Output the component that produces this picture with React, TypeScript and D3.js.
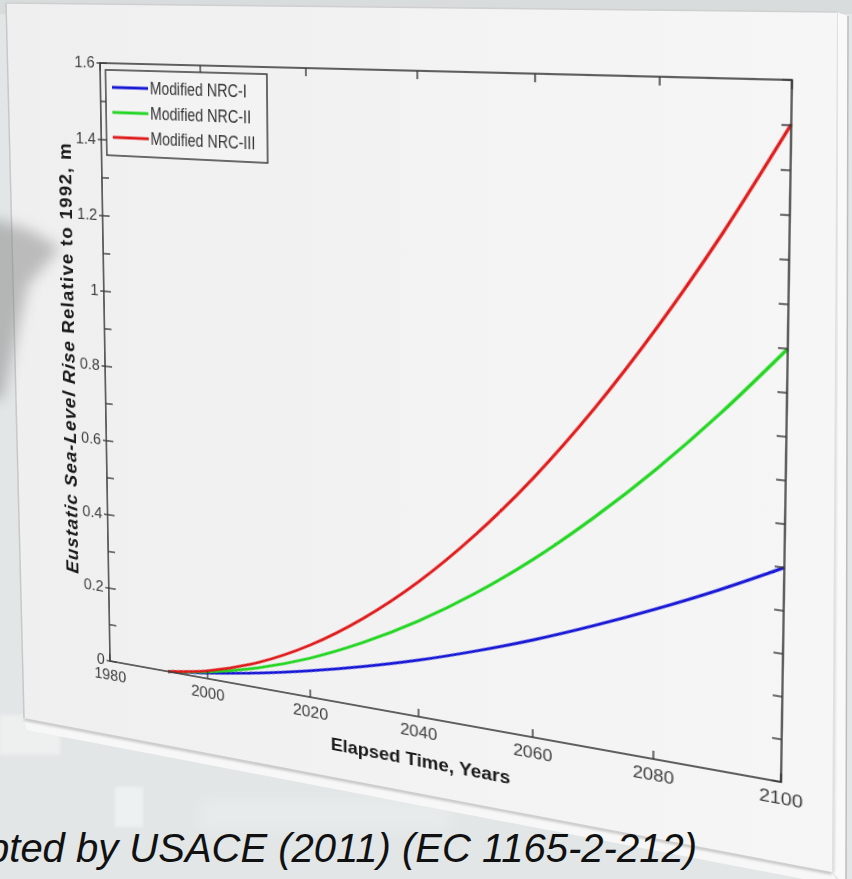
import React from "react";
import * as d3 from "d3";

// values (m, relative to 1992)
const years = [1992, 2000, 2010, 2020, 2030, 2040, 2050, 2060, 2070, 2080, 2090, 2100];
const nrcI = [0, 0.015, 0.039, 0.069, 0.104, 0.144, 0.19, 0.241, 0.298, 0.36, 0.427, 0.5];
const nrcII = [0, 0.018, 0.053, 0.102, 0.166, 0.243, 0.334, 0.439, 0.559, 0.692, 0.839, 1.0];
const nrcIII = [0, 0.021, 0.067, 0.136, 0.228, 0.342, 0.479, 0.638, 0.82, 1.025, 1.252, 1.502];

const seriesNames = ["Modified NRC-I", "Modified NRC-II", "Modified NRC-III"];
const seriesColors = ["#1616d6", "#22d622", "#e01a1a"];

const xTicks = [1980, 2000, 2020, 2040, 2060, 2080, 2100];
const yTicks = [0, 0.1, 0.2, 0.3, 0.4, 0.5, 0.6, 0.7, 0.8, 0.9, 1, 1.1, 1.2, 1.3, 1.4, 1.5, 1.6];
const yLabels = [0, 0.2, 0.4, 0.6, 0.8, 1, 1.2, 1.4, 1.6];

const W = 852;
const H = 879;

// flat plot box, before the perspective
const PL = 100;
const PT = 63;
const PW = 660;
const PH = 640;

// where the plot corners land in the photo
const quad = [
  [100, 63],
  [792, 80],
  [781, 782],
  [110, 661],
];

// 2d projective transform from 4 point pairs
function homography(src: number[][], dst: number[][]) {
  const A: number[][] = [];
  for (let i = 0; i < 4; i++) {
    const [x, y] = src[i];
    const [X, Y] = dst[i];
    A.push([x, y, 1, 0, 0, 0, -x * X, -y * X, X]);
    A.push([0, 0, 0, x, y, 1, -x * Y, -y * Y, Y]);
  }
  const n = 8;
  for (let c = 0; c < n; c++) {
    let p = c;
    for (let r = c + 1; r < n; r++) if (Math.abs(A[r][c]) > Math.abs(A[p][c])) p = r;
    [A[c], A[p]] = [A[p], A[c]];
    for (let r = 0; r < n; r++) {
      if (r === c) continue;
      const f = A[r][c] / A[c][c];
      for (let k = c; k <= n; k++) A[r][k] -= f * A[c][k];
    }
  }
  return A.map((row, i) => row[n] / row[i]);
}

const fmt = (v: number) => String(Math.round(v * 10) / 10);

export default function App() {
  const x = d3.scaleLinear().domain([1980, 2100]).range([PL, PL + PW]);
  const y = d3.scaleLinear().domain([0, 1.6]).range([PT + PH, PT]);

  const line = d3
    .line<number>()
    .x((d, i) => x(years[i]))
    .y((d) => y(d))
    .curve(d3.curveMonotoneX);

  const h = homography(
    [
      [PL, PT],
      [PL + PW, PT],
      [PL + PW, PT + PH],
      [PL, PT + PH],
    ],
    quad
  );
  const m = `matrix3d(${h[0]},${h[3]},0,${h[6]},${h[1]},${h[4]},0,${h[7]},0,0,1,0,${h[2]},${h[5]},0,1)`;

  const series = [nrcI, nrcII, nrcIII];
  const font = "'Liberation Sans', Arial, sans-serif";

  return (
    <div style={{ position: "absolute", left: 0, top: 0, width: W, height: H, overflow: "hidden" }}>
      <svg width={W} height={H} style={{ position: "absolute", left: 0, top: 0 }}>
        <defs>
          <filter id="blur8" x="-50%" y="-50%" width="200%" height="200%">
            <feGaussianBlur stdDeviation="7" />
          </filter>
          <filter id="blur2" x="-10%" y="-10%" width="120%" height="120%">
            <feGaussianBlur stdDeviation="1.5" />
          </filter>
          <linearGradient id="face" x1="0" y1="0" x2="1" y2="0">
            <stop offset="0" stopColor="#efefef" />
            <stop offset="1" stopColor="#f6f6f6" />
          </linearGradient>
        </defs>
        <rect width={W} height={H} fill="#e2e6e6" />
        <rect x={0} y={0} width={W} height={14} fill="#d9dcdc" />
        <rect x={0} y={715} width={60} height={40} fill="#eef0f0" filter="url(#blur2)" />
        <rect x={115} y={787} width={28} height={40} fill="#eef1f1" filter="url(#blur2)" />
        <rect x={200} y={800} width={250} height={30} fill="#e8ebeb" filter="url(#blur8)" />

        {/* board thickness */}
        <polygon points="24,718 832,872 840,886 27,730" fill="#f7f7f7" />
        <polygon points="836,12 848,16 846,886 832,872" fill="#f9f9f9" />
        <line x1={24} y1={719} x2={832} y2={873} stroke="#b0b0b0" strokeWidth={2.5} filter="url(#blur2)" />
        <line x1={837} y1={12} x2={833} y2={872} stroke="#c4c4c4" strokeWidth={2} filter="url(#blur2)" />
        <line x1={848} y1={16} x2={846} y2={886} stroke="#bdbdbd" strokeWidth={1.5} />

        {/* board face */}
        <polygon points="6,3 837,12 832,872 24,718" fill="url(#face)" />
        <line x1={6} y1={3} x2={837} y2={12} stroke="#cfcfcf" strokeWidth={1.5} />
        <line x1={6} y1={3} x2={24} y2={718} stroke="#c8c8c8" strokeWidth={1.5} />

        {/* grey reflection on the left */}
        <path d="M-20,215 L30,230 L60,248 L28,285 L2,400 L-20,400 Z" fill="#7d7d7d" opacity={0.45} filter="url(#blur8)" />

        <text
          x={697}
          y={862}
          textAnchor="end"
          fontFamily={font}
          fontStyle="italic"
          fontSize={40}
          fill="#111"
        >
          Adopted by USACE (2011) (EC 1165-2-212)
        </text>
      </svg>

      <svg
        width={W}
        height={H}
        style={{ position: "absolute", left: 0, top: 0, transform: m, transformOrigin: "0 0" }}
      >
        <g fontFamily={font}>
          {/* curves */}
          {series.map((s, i) => (
            <path
              key={seriesNames[i]}
              d={line(s) || ""}
              fill="none"
              stroke={seriesColors[i]}
              strokeWidth={2.8}
              strokeLinejoin="round"
            />
          ))}

          {/* axes box */}
          <rect x={PL} y={PT} width={PW} height={PH} fill="none" stroke="#3a3a3a" strokeWidth={1.6} />

          {xTicks.map((t) => (
            <g key={"x" + t}>
              <line x1={x(t)} x2={x(t)} y1={PT + PH} y2={PT + PH - 8} stroke="#3a3a3a" strokeWidth={1.4} />
              <line x1={x(t)} x2={x(t)} y1={PT} y2={PT + 8} stroke="#3a3a3a" strokeWidth={1.4} />
              <text x={x(t)} y={PT + PH + 21} textAnchor="middle" fontSize={16.5} fill="#404040">
                {t}
              </text>
            </g>
          ))}

          {yTicks.map((t) => (
            <g key={"y" + t}>
              <line x1={PL} x2={PL + 8} y1={y(t)} y2={y(t)} stroke="#3a3a3a" strokeWidth={1.4} />
              <line x1={PL + PW} x2={PL + PW - 8} y1={y(t)} y2={y(t)} stroke="#3a3a3a" strokeWidth={1.4} />
            </g>
          ))}
          {yLabels.map((t) => (
            <g key={"yl" + t}>
              <line x1={PL - 4} x2={PL} y1={y(t)} y2={y(t)} stroke="#3a3a3a" strokeWidth={1.4} />
              <text x={PL - 6} y={y(t) + 5} textAnchor="end" fontSize={16.5} fill="#404040">
                {fmt(t)}
              </text>
            </g>
          ))}

          {/* axis titles */}
          <text
            transform={`translate(65, ${PT + PH / 2 - 3}) rotate(-90)`}
            textAnchor="middle"
            fontSize={20}
            fontWeight="bold"
            letterSpacing={1.3}
            fill="#1a1a1a"
          >
            <tspan fontStyle="italic">Eustatic Sea-Level Rise</tspan> Relative to 1992, m
          </text>
          <text x={x(2040)} y={PT + PH + 51} textAnchor="middle" fontSize={18.5} fontWeight="bold" fill="#1a1a1a">
            Elapsed Time, Years
          </text>

          {/* legend */}
          <rect x={106} y={70} width={174} height={89} fill="#f3f3f3" stroke="#3a3a3a" strokeWidth={1.5} />
          {seriesNames.map((name, i) => (
            <g key={name}>
              <line
                x1={113}
                x2={153}
                y1={88 + i * 26}
                y2={88 + i * 26}
                stroke={seriesColors[i]}
                strokeWidth={3}
              />
              <text
                transform={`translate(155, ${94 + i * 26}) scale(0.87, 1)`}
                fontSize={17.5}
                fill="#333"
              >
                {name}
              </text>
            </g>
          ))}
        </g>
      </svg>
    </div>
  );
}
